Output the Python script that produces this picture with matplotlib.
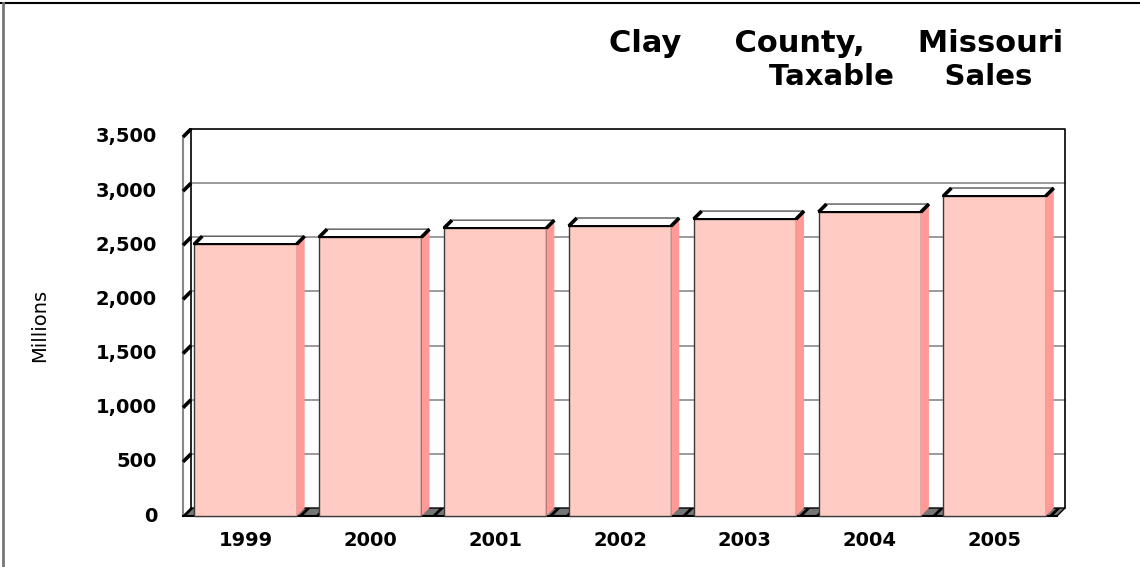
import numpy as np
import matplotlib.pyplot as plt
from matplotlib.patches import Polygon
from matplotlib.lines import Line2D

years = ["1999", "2000", "2001", "2002", "2003", "2004", "2005"]
sales = [2510, 2575, 2658, 2678, 2742, 2807, 2955]   # millions
yticks = [0, 500, 1000, 1500, 2000, 2500, 3000, 3500]
ytick_labels = ["0", "500", "1,000", "1,500", "2,000", "2,500", "3,000", "3,500"]

front_col = "#FFCBC3"
side_col = "#FF9A96"
floor_col = "#767676"

plt.rcParams["hatch.color"] = "black"
plt.rcParams["hatch.linewidth"] = 2.0

fig = plt.figure(figsize=(11.4, 5.67), dpi=100)
ax = fig.add_axes([183/1140, 51/567, 874/1140, 379/567])
n = len(years)
ymax = 3500
ax.set_xlim(-0.5, n - 0.5)
ax.set_ylim(0, ymax)
ax.axis("off")

# depth offset (about 8 px right and 8 px up) in data units
dx = 8 / (874 / n)
dy = 8 / (379 / ymax)
x0, x1 = -0.5, n - 0.5

# back wall
ax.add_patch(Polygon([(x0 + dx, dy), (x1 + dx, dy), (x1 + dx, ymax + dy), (x0 + dx, ymax + dy)],
                     closed=True, facecolor="white", edgecolor="none", clip_on=False, zorder=1))
for v in yticks[1:-1]:
    ax.plot([x0 + dx, x1 + dx], [v + dy, v + dy], color="#8a8a8a", lw=1.2, clip_on=False, zorder=1.5)
ax.plot([x0 + dx, x1 + dx, x1 + dx], [ymax + dy, ymax + dy, dy], color="black", lw=1.2,
        clip_on=False, zorder=1.6)

# left wall
ax.plot([x0, x0], [0, ymax], color="#888888", lw=1.5, clip_on=False, zorder=2)
ax.plot([x0 + dx, x0 + dx], [dy, ymax + dy], color="black", lw=1.2, clip_on=False, zorder=2)
for v in yticks[1:]:
    ax.plot([x0, x0 + dx], [v, v + dy], color="black", lw=2.6, clip_on=False,
            solid_capstyle="butt", zorder=2.1)

# floor
ax.add_patch(Polygon([(x0, 0), (x1, 0), (x1 + dx, dy), (x0 + dx, dy)], closed=True,
                     facecolor=floor_col, edgecolor="black", hatch="//", lw=1.0,
                     clip_on=False, zorder=2.5))
ax.plot([x0, x1], [0, 0], color="black", lw=1.5, clip_on=False, zorder=2.6)

# bars
x = np.arange(n)
hw = 0.41
ax.bar(x, sales, width=2 * hw, color=front_col, edgecolor="#3a3a3a", linewidth=1.0,
       zorder=3, clip_on=False)
for xi, v in zip(x, sales):
    ax.add_patch(Polygon([(xi + hw, 0), (xi + hw + dx, dy), (xi + hw + dx, v + dy), (xi + hw, v)],
                         closed=True, facecolor=side_col, edgecolor="none", clip_on=False, zorder=3))
    ax.add_patch(Polygon([(xi - hw, v), (xi + hw, v), (xi + hw + dx, v + dy), (xi - hw + dx, v + dy)],
                         closed=True, facecolor="white", edgecolor="#555555", lw=1.0,
                         clip_on=False, zorder=3.2))
    ax.plot([xi - hw, xi + hw], [v, v], color="black", lw=1.4, clip_on=False, zorder=3.3)
    for xe in (xi - hw, xi + hw):
        ax.plot([xe, xe + dx], [v, v + dy], color="black", lw=2.6, clip_on=False,
                solid_capstyle="butt", zorder=3.4)

# tick labels
for v, lab in zip(yticks, ytick_labels):
    ax.text(x0 - 26 / 124.9, v, lab, ha="right", va="center", fontsize=14,
            fontweight="bold", family="DejaVu Sans")
for xi, lab in zip(x, years):
    ax.text(xi, -25 / (379 / ymax), lab, ha="center", va="center", fontsize=14,
            fontweight="bold", family="DejaVu Sans")

fig.text(40 / 1140, 1 - 325 / 567, "Millions", rotation=90, ha="center", va="center",
         fontsize=14, family=["Liberation Sans Narrow", "DejaVu Sans"])

fig.text(1063 / 1140, 1 - 43 / 567, "Clay     County,     Missouri", ha="right", va="center",
         fontsize=22, fontweight="bold", family="DejaVu Sans")
fig.text(1032 / 1140, 1 - 77 / 567, "Taxable     Sales", ha="right", va="center",
         fontsize=21, fontweight="bold", family="DejaVu Sans")

# outer frame (top and left)
fig.add_artist(Line2D([0, 1], [1 - 3 / 567, 1 - 3 / 567], color="black", lw=1.5,
                      transform=fig.transFigure))
fig.add_artist(Line2D([2.5 / 1140, 2.5 / 1140], [0, 1 - 3 / 567], color="#777777", lw=2,
                      transform=fig.transFigure))

fig.savefig("out.png", dpi=100)
